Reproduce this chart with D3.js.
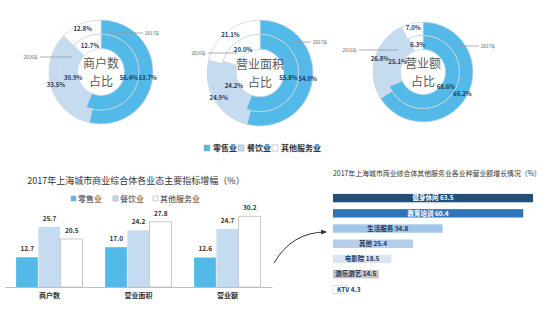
<!DOCTYPE html>
<html>
<head>
<meta charset="utf-8">
<script src="https://cdn.jsdelivr.net/npm/d3@7"></script>
<style>
  html, body { margin: 0; padding: 0; background: #fff; }
  svg { display: block; font-family: 'Noto Sans CJK SC', 'Noto Sans', sans-serif; }
</style>
</head>
<body>
<div id="chart"></div>
<script>
// Business types (shared by donuts and grouped bars)
const CATS = ['零售业', '餐饮业', '其他服务业'];
const CAT_COLORS = ['#52b9e9', '#c4dbf0', '#ffffff'];

// Donut shares: outer ring = 2017, inner ring = 2016
const DONUT_TITLES = [['商户数', '占比'], ['营业面积', '占比'], ['营业额', '占比']];
const SHARE_2017 = [[53.7, 33.5, 12.8], [54.0, 24.9, 21.1], [66.2, 26.8, 7.0]];
const SHARE_2016 = [[56.4, 30.9, 12.7], [55.8, 24.2, 20.0], [68.6, 25.1, 6.3]];

// Grouped bars: growth by indicator
const GROWTH_GROUPS = ['商户数', '营业面积', '营业额'];
const GROWTH = [[12.7, 25.7, 20.5], [17.0, 24.2, 27.8], [12.6, 24.7, 30.2]];

// Horizontal bars: other service sub-types
const SERVICE_NAMES = ['健身休闲', '教育培训', '生活服务', '其他', '电影院', '游乐游艺', 'KTV'];
const SERVICE_VALUES = [63.5, 60.4, 34.8, 25.4, 18.5, 14.5, 4.3];
const SERVICE_COLORS = ['#244f7a', '#2f76b8', '#a0c5e8', '#b6cdea', '#dbe5f2', '#c2c2c2', '#ffffff'];

const width = 548;
const height = 322;
const svg = d3.select('#chart').append('svg').attr('width', width).attr('height', height);

// ---- Donuts ----
const donutPos = [
  { cx: 101, cy: 72, r: 52, lab17: [110, 143, 33], lab16: [72, 40, 57] },
  { cx: 260, cy: 73, r: 53, lab17: [290, 311, 42], lab16: [237, 208, 53] },
  { cx: 423, cy: 72, r: 50, lab17: [457, 479, 46], lab16: [398, 359, 50] }
];

const pie = d3.pie().sort(null).value(d => d);

donutPos.forEach((p, i) => {
  const g = svg.append('g').attr('transform', `translate(${p.cx},${p.cy})`);
  const rMid = p.r * 0.73;
  const rIn = p.r * 0.45;
  const rings = [
    { vals: SHARE_2017[i], arc: d3.arc().innerRadius(rMid).outerRadius(p.r), labR: p.r - 5 },
    { vals: SHARE_2016[i], arc: d3.arc().innerRadius(rIn).outerRadius(rMid), labR: rIn + 5 }
  ];

  rings.forEach(ring => {
    const arcs = pie(ring.vals);
    const labArc = d3.arc().innerRadius(ring.labR).outerRadius(ring.labR);
    g.selectAll(null)
      .data(arcs)
      .join('path')
      .attr('d', ring.arc)
      .attr('fill', (d, j) => CAT_COLORS[j])
      .attr('stroke', '#cdd7e1')
      .attr('stroke-width', 0.8);

    g.selectAll(null)
      .data(arcs)
      .join('text')
      .attr('transform', d => `translate(${labArc.centroid(d)})`)
      .attr('text-anchor', 'middle')
      .attr('dy', '0.35em')
      .attr('font-size', 6)
      .attr('font-weight', 700)
      .attr('fill', '#1f3a5c')
      .text(d => d.data.toFixed(1) + '%');
  });

  // center text
  DONUT_TITLES[i].forEach((t, k) => {
    g.append('text')
      .attr('text-anchor', 'middle')
      .attr('y', k === 0 ? -4 : 14)
      .attr('font-size', 12)
      .attr('fill', '#5a5a5a')
      .text(t);
  });

  // year callouts
  const [a1, a2, ay] = p.lab17;
  svg.append('line')
    .attr('x1', a1).attr('x2', a2).attr('y1', ay).attr('y2', ay)
    .attr('stroke', '#999').attr('stroke-width', 0.8);
  svg.append('text')
    .attr('x', a2 + 2).attr('y', ay).attr('dy', '0.35em')
    .attr('font-size', 4.5).attr('fill', '#555').text('2017年');

  const [b1, b2, by] = p.lab16;
  svg.append('line')
    .attr('x1', b1).attr('x2', b2).attr('y1', by).attr('y2', by)
    .attr('stroke', '#999').attr('stroke-width', 0.8);
  svg.append('text')
    .attr('x', b2 - 2).attr('y', by).attr('dy', '0.35em')
    .attr('text-anchor', 'end')
    .attr('font-size', 4.5).attr('fill', '#555').text('2016年');
});

// legend under donuts
const legendTop = svg.append('g').attr('transform', 'translate(204,148)');
const legX1 = [0, 34, 68];
CATS.forEach((c, j) => {
  const lg = legendTop.append('g').attr('transform', `translate(${legX1[j]},0)`);
  lg.append('rect').attr('x', 0).attr('y', -3).attr('width', 6).attr('height', 6)
    .attr('fill', j === 2 ? '#fff' : CAT_COLORS[j]).attr('stroke', '#aaa').attr('stroke-width', 0.6);
  lg.append('text').attr('x', 9).attr('dy', '0.35em').attr('font-size', 8)
    .attr('font-weight', 700).attr('fill', '#333').text(c);
});

// ---- Grouped bar chart ----
svg.append('text')
  .attr('x', 136).attr('y', 181).attr('dy', '0.35em')
  .attr('text-anchor', 'middle')
  .attr('font-size', 9)
  .attr('fill', '#333')
  .text('2017年上海城市商业综合体各业态主要指标增幅（%）');

const legendBar = svg.append('g').attr('transform', 'translate(0,199)');
const legX2 = [71, 113, 153];
CATS.forEach((c, j) => {
  const lg = legendBar.append('g').attr('transform', `translate(${legX2[j]},0)`);
  lg.append('rect').attr('x', 0).attr('y', -3).attr('width', 5).attr('height', 5)
    .attr('fill', CAT_COLORS[j]).attr('stroke', '#aaa').attr('stroke-width', 0.6);
  lg.append('text').attr('x', 7).attr('dy', '0.35em').attr('font-size', 8)
    .attr('fill', '#333').text(c);
});

const x0 = d3.scaleBand().domain(GROWTH_GROUPS).range([5, 272]).paddingInner(0.25).paddingOuter(0.125);
const x1 = d3.scaleBand().domain(d3.range(CATS.length)).range([0, x0.bandwidth()]);
const yG = d3.scaleLinear().domain([0, 35]).range([287, 205]);

const groups = svg.append('g')
  .selectAll('g')
  .data(GROWTH)
  .join('g')
  .attr('transform', (d, i) => `translate(${x0(GROWTH_GROUPS[i])},0)`);

groups.selectAll('rect')
  .data(d => d)
  .join('rect')
  .attr('x', (d, j) => x1(j))
  .attr('y', d => yG(d))
  .attr('width', x1.bandwidth() - 0.5)
  .attr('height', d => yG(0) - yG(d))
  .attr('fill', (d, j) => CAT_COLORS[j])
  .attr('stroke', (d, j) => (j === 2 ? '#bbb' : 'none'))
  .attr('stroke-width', 0.8);

groups.selectAll('text')
  .data(d => d)
  .join('text')
  .attr('x', (d, j) => x1(j) + x1.bandwidth() / 2)
  .attr('y', d => yG(d) - 6)
  .attr('text-anchor', 'middle')
  .attr('font-size', 6.5)
  .attr('font-weight', 700)
  .attr('fill', '#333')
  .text(d => d.toFixed(1));

const xAxis = svg.append('g')
  .attr('transform', `translate(0,${yG(0)})`)
  .call(d3.axisBottom(x0).tickSize(0).tickPadding(6));
xAxis.select('.domain').attr('stroke', '#bfbfbf');
xAxis.selectAll('text')
  .attr('font-size', 7)
  .attr('font-weight', 700)
  .attr('fill', '#333')
  .attr('font-family', "'Noto Sans CJK SC', sans-serif");

// ---- Arrow ----
svg.append('defs').append('marker')
  .attr('id', 'arrowHead')
  .attr('viewBox', '0 0 10 10')
  .attr('refX', 8).attr('refY', 5)
  .attr('markerWidth', 6).attr('markerHeight', 6)
  .attr('orient', 'auto')
  .append('path').attr('d', 'M0,1 L10,5 L0,9 Z').attr('fill', '#333');

svg.append('path')
  .attr('d', 'M274,263 Q292,232 326,232')
  .attr('fill', 'none')
  .attr('stroke', '#333')
  .attr('stroke-width', 1)
  .attr('marker-end', 'url(#arrowHead)');

// ---- Horizontal bar chart ----
svg.append('text')
  .attr('x', 333).attr('y', 174).attr('dy', '0.35em')
  .attr('font-size', 7)
  .attr('fill', '#333')
  .attr('textLength', 208)
  .attr('lengthAdjust', 'spacingAndGlyphs')
  .text('2017年上海城市商业综合体其他服务业各业种营业额增长情况（%）');

const yS = d3.scaleBand().domain(SERVICE_NAMES).range([190.5, 297]).paddingInner(0.45).paddingOuter(0.225);
const xS = d3.scaleLinear().domain([0, 63.5]).range([333, 533]);

svg.append('g')
  .selectAll('rect')
  .data(SERVICE_VALUES)
  .join('rect')
  .attr('x', xS(0))
  .attr('y', (d, i) => yS(SERVICE_NAMES[i]))
  .attr('width', d => xS(d) - xS(0))
  .attr('height', yS.bandwidth())
  .attr('fill', (d, i) => SERVICE_COLORS[i])
  .attr('stroke', (d, i) => (i === SERVICE_VALUES.length - 1 ? '#ccc' : 'none'))
  .attr('stroke-width', 0.6);

svg.append('g')
  .selectAll('text')
  .data(SERVICE_VALUES)
  .join('text')
  .attr('x', d => {
    const w = xS(d) - xS(0);
    return w > 40 ? (xS(0) + xS(d)) / 2 : xS(0) + 4;
  })
  .attr('y', (d, i) => yS(SERVICE_NAMES[i]) + yS.bandwidth() / 2)
  .attr('dy', '0.35em')
  .attr('text-anchor', d => (xS(d) - xS(0) > 40 ? 'middle' : 'start'))
  .attr('font-size', 6.5)
  .attr('font-weight', 700)
  .attr('fill', (d, i) => (i < 2 ? '#fff' : '#1f3a5c'))
  .text((d, i) => `${SERVICE_NAMES[i]} ${d.toFixed(1)}`);
</script>
</body>
</html>
